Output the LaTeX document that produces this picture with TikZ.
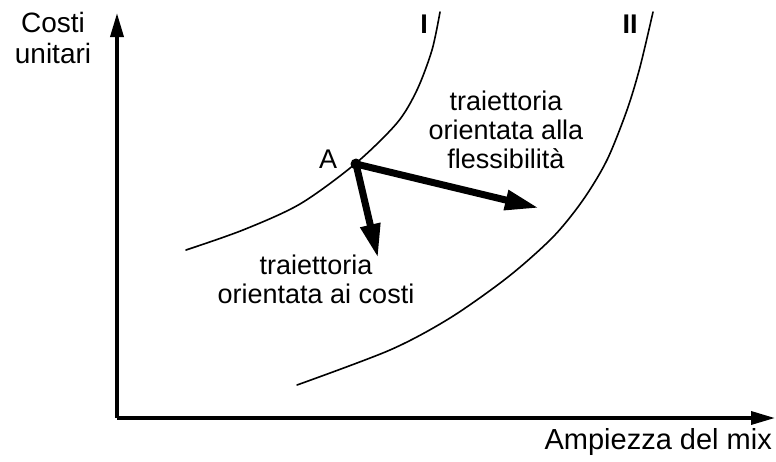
\documentclass[tikz,border=0pt]{standalone}
\usepackage{fontspec}
\setmainfont{Liberation Sans}
\usetikzlibrary{arrows.meta}

\begin{document}
\begin{tikzpicture}[x=1pt, y=-1pt,
  axisline/.style={line width=3.5pt, -{Triangle[length=24pt, width=13pt]}},
  curveline/.style={line width=1.6pt, line cap=round},
  patharrow/.style={line width=7pt, -{Triangle[length=34pt, width=19pt]}},
  dotnode/.style={circle, fill, inner sep=0pt, minimum size=11pt},
  labeltext/.style={font=\fontsize{27}{29}\selectfont, align=center, inner sep=0pt},
  axislabel/.style={font=\fontsize{28}{31}\selectfont, align=center, inner sep=0pt},
  curvelabel/.style={font=\fontsize{27}{29}\selectfont\bfseries, inner sep=0pt}
]
  \useasboundingbox (0,0) rectangle (776,461);

  % axes
  \coordinate (origin) at (117,418);
  \coordinate (ytop)   at (117,13);
  \coordinate (xend)   at (775,418);
  \draw[axisline] (origin) -- (ytop);
  \draw[axisline] (origin) -- (xend);

  \node[axislabel, anchor=base] (ylab) at (53,63) {Costi\\unitari};
  \node[axislabel, font=\fontsize{29}{31}\selectfont, anchor=base east] (xlab) at (772,449) {Ampiezza del mix};

  % curve I and curve II
  \draw[curveline] plot[smooth] coordinates
    {(186,250) (243,230) (300,204) (355,164) (397,123) (417,90) (432,50) (440,12)};
  \draw[curveline] plot[smooth] coordinates
    {(297,385) (390,350) (450,318) (508,277) (553,237) (583,200) (607,160) (627,110) (640,67) (653,12)};

  \node[curvelabel, anchor=base] (one) at (424,33) {I};
  \node[curvelabel, anchor=base] (two) at (630,33) {II};

  % point A and trajectories
  \node[dotnode] (A) at (356,164) {};
  \node[labeltext, anchor=base] (Alab) at (328,168) {A};

  \coordinate (flextip) at (539,208);
  \coordinate (costtip) at (378,258);
  \draw[patharrow] (A.center) -- (flextip);
  \draw[patharrow] (A.center) -- (costtip);

  \node[labeltext, anchor=base] (flexlab) at (506,168)
    {traiettoria\\orientata alla\\flessibilità};
  \node[labeltext, anchor=base] (costlab) at (316,303)
    {traiettoria\\orientata ai costi};
\end{tikzpicture}
\end{document}
